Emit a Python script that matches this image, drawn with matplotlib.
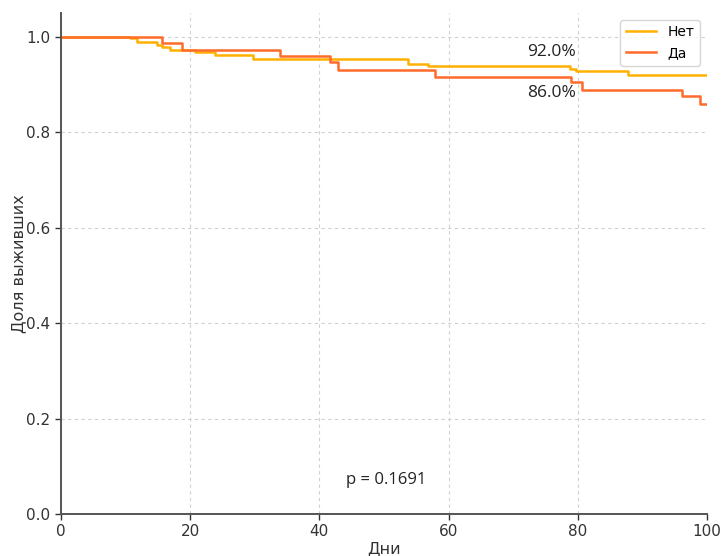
import matplotlib.pyplot as plt

# Кривые выживаемости (Каплан-Мейер)
net_days = [0, 10.7, 11.7, 14.8, 15.6, 16.9, 20.7, 23.8, 29.7, 53.7, 56.8, 78.8, 79.8, 87.8, 100]
net_surv = [1.0, 0.997, 0.989, 0.983, 0.978, 0.971, 0.968, 0.961, 0.954, 0.943, 0.938, 0.933, 0.928, 0.920, 0.920]

da_days = [0, 15.7, 18.8, 33.9, 41.7, 42.9, 57.9, 79.0, 80.6, 96.1, 98.9, 100]
da_surv = [1.0, 0.987, 0.973, 0.959, 0.947, 0.931, 0.915, 0.905, 0.889, 0.875, 0.859, 0.859]

labels = ['Нет', 'Да']
colors = ['#FFB000', '#FF6B2B']
final_text = ['92.0%', '86.0%']
p_text = 'p = 0.1691'

fig = plt.figure(figsize=(7.22, 5.56), dpi=100)
ax = fig.add_axes([0.0845, 0.0755, 0.8945, 0.9015])

ax.step(net_days, net_surv, where='post', color=colors[0], linewidth=1.8, label=labels[0])
ax.step(da_days, da_surv, where='post', color=colors[1], linewidth=1.8, label=labels[1])

# подписи итоговой выживаемости
ax.text(76, 0.968, final_text[0], ha='center', va='center', fontsize=12.5, family='Open Sans', color='#222222')
ax.text(76, 0.882, final_text[1], ha='center', va='center', fontsize=12.5, family='Open Sans', color='#222222')
ax.text(50.3, 0.071, p_text, ha='center', va='center', fontsize=12, family='Open Sans', color='#222222')

ax.set_xlim(0, 100)
ax.set_ylim(0, 1.05)
ax.set_xticks([0, 20, 40, 60, 80, 100])
ax.set_yticks([0.0, 0.2, 0.4, 0.6, 0.8, 1.0])
ax.set_xlabel('Дни', fontsize=11.5, color='#333333', labelpad=1)
ax.set_ylabel('Доля выживших', fontsize=11.5, color='#333333', labelpad=0)

ax.grid(True, linestyle=(0, (3, 3)), color='#d0d0d0', linewidth=0.8)
ax.set_axisbelow(True)
for s in ['top', 'right']:
    ax.spines[s].set_visible(False)
for s in ['left', 'bottom']:
    ax.spines[s].set_color('#555555')
    ax.spines[s].set_linewidth(1.4)
ax.tick_params(colors='#333333', labelsize=11, length=4, width=1)

ax.legend(loc='upper right', fontsize=10, frameon=True, handlelength=2.2)

fig.savefig('out.png', dpi=100)
